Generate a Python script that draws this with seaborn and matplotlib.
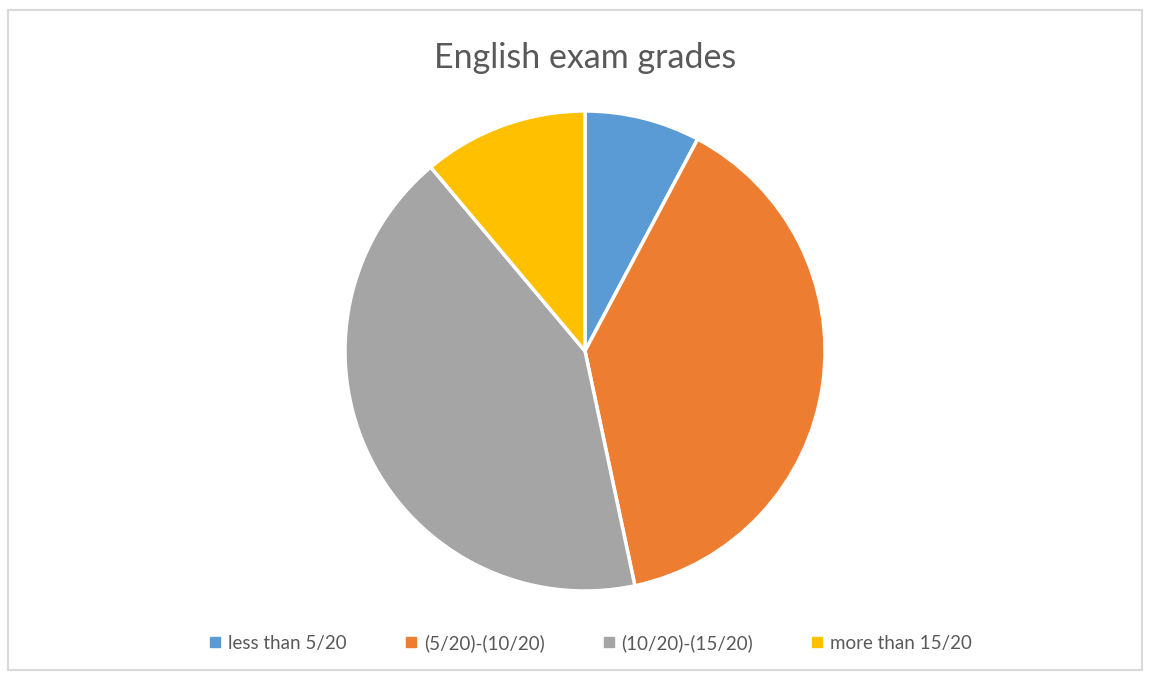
import matplotlib
matplotlib.use('Agg')
import matplotlib.pyplot as plt
import seaborn as sns
from matplotlib.lines import Line2D
from matplotlib.patches import Rectangle

# Data
labels = ['less than 5/20', '(5/20)-(10/20)', '(10/20)-(15/20)', 'more than 15/20']
counts = [7, 35, 38, 10]
colors = ['#5B9BD5', '#ED7D31', '#A5A5A5', '#FFC000']

sns.set_theme(style="white")
plt.rcParams['font.family'] = ['Lato', 'DejaVu Sans']

fig = plt.figure(figsize=(11.51, 6.76), dpi=100)
W, H = 1151, 676

# Outer chart border
fig.patches.append(Rectangle((8 / W, 6 / H), 1134 / W, 660 / H, transform=fig.transFigure,
                             fill=False, edgecolor='#D9D9D9', linewidth=1.5))

cx, cy, r = 585, 351, 240
ax = fig.add_axes([(cx - r) / W, (H - cy - r) / H, 2 * r / W, 2 * r / H])
ax.pie(counts, colors=colors, startangle=90, counterclock=False,
       wedgeprops=dict(edgecolor='white', linewidth=2.5))
ax.set_xlim(-1.0, 1.0)
ax.set_ylim(-1.0, 1.0)
ax.set_aspect('equal')
ax.axis('off')

fig.text(585 / W, 1 - 58 / H, 'English exam grades', ha='center', va='center',
         fontsize=24.5, color='#595959')

handles = [Line2D([0], [0], marker='s', linestyle='', markersize=7,
                  markerfacecolor=c, markeredgecolor=c) for c in colors]
fig.legend(handles, labels, loc='center', bbox_to_anchor=(590 / W, 1 - 643 / H), ncol=4,
           frameon=False, fontsize=13.5, labelcolor='#595959', handletextpad=0.3,
           columnspacing=3.0, handlelength=0.8)

fig.savefig('out.png', dpi=100)
